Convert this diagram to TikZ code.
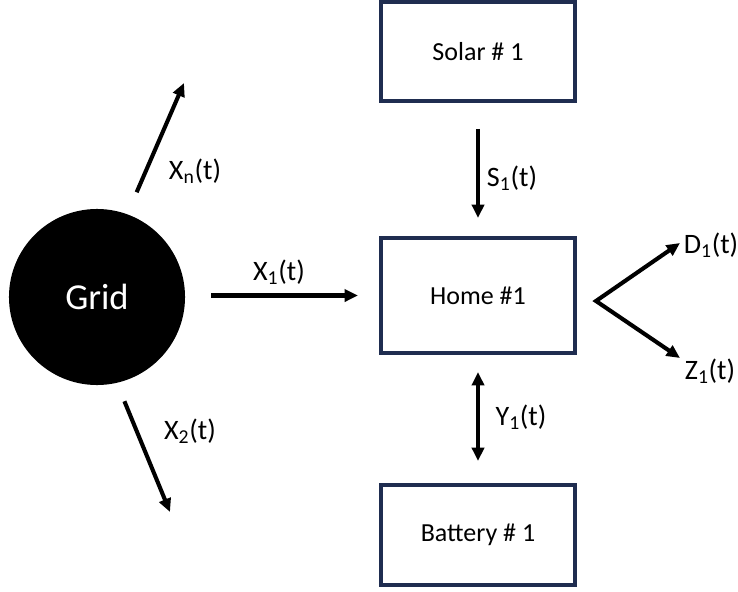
\documentclass[tikz,border=0pt]{standalone}
\usepackage{fontspec}
\setmainfont{Carlito}
\usetikzlibrary{arrows.meta, positioning}
\definecolor{cnavy}{HTML}{1F2D50}
\tikzset{
  every picture/.style={font=\fontsize{18.5}{21}\selectfont, line width=2.9pt},
  box/.style={draw=cnavy, line width=3pt, fill=white, minimum width=4.845cm, inner sep=0pt, outer sep=0pt},
  arrow/.style={-{Triangle[length=9.5pt, width=8.5pt]}},
  dblarrow/.style={{Triangle[length=9.5pt, width=8.5pt]}-{Triangle[length=9.5pt, width=8.5pt]}},
  lbl/.style={font=\fontsize{20}{22}\selectfont, inner sep=0pt},
}
\begin{document}
\begin{tikzpicture}[x=0.025cm, y=-0.025cm]
  \useasboundingbox (0,0) rectangle (738,592);
  % the grid and the three boxes of home 1
  \node[circle, fill=black, minimum size=4.4cm, inner sep=0pt, outer sep=0pt, text=white,
    font=\fontsize{26}{30}\selectfont] (grid) at (97,297) {Grid};
  \node[box, minimum height=2.47cm] (solar) at (478,51.5) {Solar \# 1};
  \node[box, minimum height=2.87cm] (home) at (478,295.5) {Home \#1};
  \node[box, minimum height=2.495cm] (battery) at (478,535) {Battery \# 1};
  % flows out of the grid
  \coordinate (xntip) at (184,83);
  \coordinate (x2tip) at (170,512);
  \draw[arrow, shorten <=0.6cm] (grid.70) -- (xntip);
  \draw[arrow, shorten <=0.5cm] (grid.-77) -- (x2tip);
  \draw[arrow, shorten <=0.65cm, shorten >=0.575cm] (grid.east |- home) -- (home.west);
  \node[lbl] (xnlbl) at (195,171) {X\textsubscript{n}(t)};
  \node[lbl] (x1lbl) at (279,272) {X\textsubscript{1}(t)};
  \node[lbl] (x2lbl) at (190,431) {X\textsubscript{2}(t)};
  % solar and battery
  \draw[arrow, shorten <=0.7cm, shorten >=0.5cm] (solar) -- (home);
  \draw[dblarrow, shorten <=0.475cm, shorten >=0.6cm] (home) -- (battery);
  \node[lbl] (s1lbl) at (512,178) {S\textsubscript{1}(t)};
  \node[lbl] (y1lbl) at (521,417) {Y\textsubscript{1}(t)};
  % demand and export
  \coordinate (fork) at (596,301);
  \coordinate (d1tip) at (680,243);
  \coordinate (z1tip) at (680,358);
  \draw[dblarrow] (d1tip) -- (fork) -- (z1tip);
  \node[lbl] (d1lbl) at (711,245) {D\textsubscript{1}(t)};
  \node[lbl] (z1lbl) at (710,371) {Z\textsubscript{1}(t)};
\end{tikzpicture}
\end{document}
